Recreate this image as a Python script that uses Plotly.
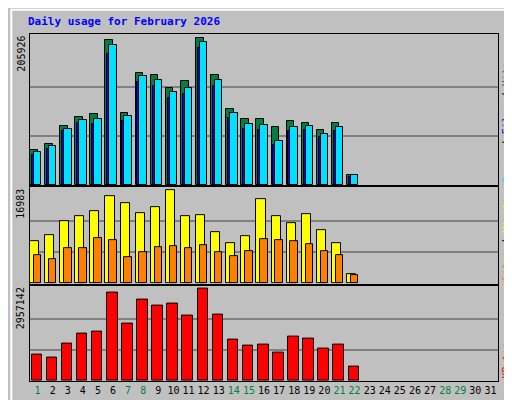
import plotly.graph_objects as go
from plotly.subplots import make_subplots

days = list(range(1, 32))
data_days = list(range(1, 23))
weekend = [1, 7, 8, 14, 15, 21, 22, 28, 29]

hits = [48700, 57000, 83500, 96000, 100000, 203000, 101500, 157200, 154400, 136300, 146000,
        205926, 154400, 107100, 93200, 93200, 82100, 90400, 87600, 77900, 87600, 13900]
files = [45900, 54200, 79300, 91800, 93200, 196100, 97400, 153000, 147400, 130800, 136300,
         200300, 147400, 101500, 86200, 84900, 61200, 82100, 83500, 72300, 82100, 13900]
pages = [41700, 50100, 76500, 87600, 86200, 183600, 90400, 144700, 139100, 122400, 128000,
         192000, 139100, 94600, 79300, 77900, 55600, 76500, 77900, 66800, 76500, 11100]
visits = [7750, 8860, 11260, 12180, 13110, 15880, 14580, 12740, 13850, 16983, 12180,
          12370, 9410, 7380, 8680, 15320, 12180, 10890, 12550, 9600, 7380, 1660]
sites = [5170, 4430, 6460, 6460, 8310, 7940, 4800, 5720, 6650, 6830, 6460,
         7010, 5720, 4980, 5910, 8120, 7940, 7750, 7200, 5910, 5170, 1480]
kbytes = [844900, 747400, 1202400, 1527300, 1592300, 2827200, 1819800, 2599700, 2404700,
          2469700, 2079800, 2957142, 2112200, 1332400, 1137400, 1169900, 909900, 1429800,
          1364800, 1039900, 1169900, 455000]

fig = make_subplots(rows=3, cols=1, shared_xaxes=True, vertical_spacing=0.006,
                    row_heights=[152, 97, 96])

def bars(vals, color, off, w, row):
    fig.add_trace(go.Bar(x=data_days, y=vals, offset=off, width=w, marker_color=color,
                         marker_line=dict(color="black", width=1), showlegend=False), row=row, col=1)

bars(hits, "#008040", -0.5, 0.5, 1)
bars(pages, "#0000FF", -0.38, 0.2, 1)
bars(files, "#00E0FF", -0.25, 0.5, 1)
bars(visits, "#FFFF00", -0.5, 0.6, 2)
bars(sites, "#FF8000", -0.25, 0.5, 2)
bars(kbytes, "#FF0000", -0.4, 0.7, 3)

tops = [max(hits), max(visits), max(kbytes)]
for i, m in enumerate(tops, start=1):
    fig.update_yaxes(row=i, col=1, range=[0, m * 1.03], tickvals=[m / 3, m * 2 / 3],
                     showticklabels=False, ticks="", gridcolor="#808080", gridwidth=2,
                     showline=True, linecolor="black", mirror=True, zeroline=False)

ticktext = [f"<span style='color:{'#008040' if d in weekend else 'black'}'>{d}</span>" for d in days]
for i in range(1, 4):
    fig.update_xaxes(row=i, col=1, range=[0.5, 31.5], showgrid=False, showline=True,
                     linecolor="black", mirror=True, ticks="", tickvals=days, tickangle=0,
                     tickfont=dict(size=10), ticktext=ticktext, showticklabels=(i == 3))

yd = ["y", "y2", "y3"]
for i, m in enumerate(tops):
    fig.add_annotation(x=-0.004, xref="paper", y=m * 1.03, yref=yd[i], text=str(m),
                       textangle=-90, showarrow=False, xanchor="right", yanchor="top",
                       font=dict(size=10, color="black"))

right = [
    "<span style='color:#00E0FF'>Pages</span> / <span style='color:#0000FF'>Files</span> / <span style='color:#008040'>Hits</span>",
    "<span style='color:#FF8000'>Sites</span> / <span style='color:#FFFF00'>Visits</span>",
    "<span style='color:#FF0000'>KBytes</span>",
]
for i, m in enumerate(tops):
    fig.add_annotation(x=1.0, xref="paper", xshift=1, y=0, yref=yd[i], text=right[i],
                       textangle=-90, showarrow=False, xanchor="left", yanchor="bottom",
                       font=dict(size=10, color="black"))

fig.add_annotation(x=0.0, xref="paper", xshift=-4, y=1.0, yref="paper", yshift=13,
                   text="<b>Daily usage for February 2026</b>",
                   showarrow=False, xanchor="left", yanchor="middle",
                   font=dict(size=11, color="#0000FF"))

fig.add_shape(type="rect", xref="paper", yref="paper", x0=-0.04, x1=1.035, y0=-0.06, y1=1.07,
              line=dict(color="white", width=2))

fig.update_layout(
    width=512, height=400, barmode="overlay", bargap=0,
    margin=dict(l=22, r=22, t=26, b=22),
    paper_bgcolor="#C0C0C0", plot_bgcolor="#C0C0C0",
    font=dict(family="DejaVu Sans Mono", size=10, color="black"),
)

fig.write_html("out.html")
